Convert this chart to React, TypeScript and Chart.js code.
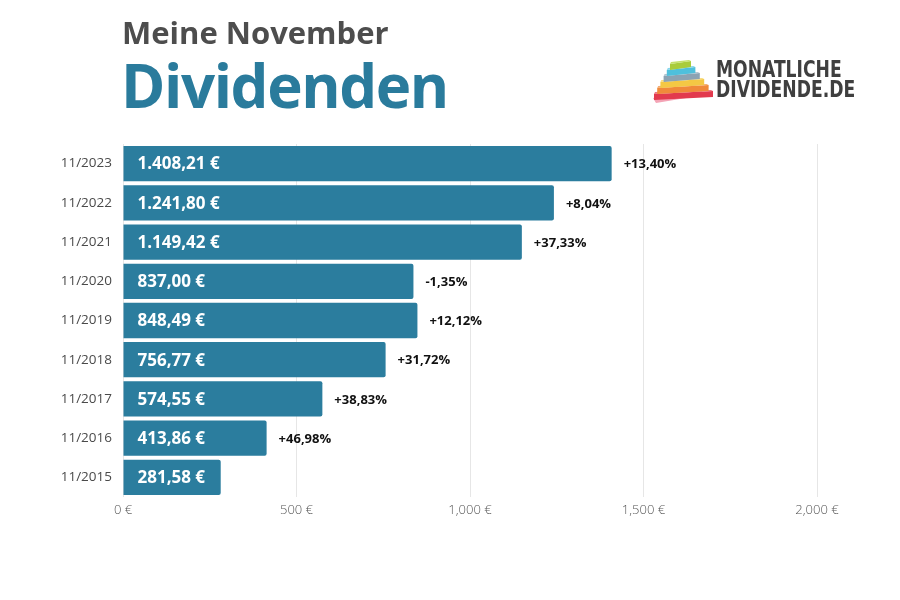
import React, { useEffect, useRef } from "react";
import { Chart, registerables } from "chart.js";

Chart.register(...registerables);

const categories = ["11/2023", "11/2022", "11/2021", "11/2020", "11/2019", "11/2018", "11/2017", "11/2016", "11/2015"];
const values = [1408.21, 1241.8, 1149.42, 837.0, 848.49, 756.77, 574.55, 413.86, 281.58];
const valueLabels = ["1.408,21 €", "1.241,80 €", "1.149,42 €", "837,00 €", "848,49 €", "756,77 €", "574,55 €", "413,86 €", "281,58 €"];
const changeLabels = ["+13,40%", "+8,04%", "+37,33%", "-1,35%", "+12,12%", "+31,72%", "+38,83%", "+46,98%", ""];
const xTicks = ["0 €", "500 €", "1,000 €", "1,500 €", "2,000 €"];

const BAR = "#2b7d9e";

const labelPlugin = {
  id: "barLabels",
  afterDatasetsDraw(chart: any) {
    const ctx = chart.ctx;
    const meta = chart.getDatasetMeta(0);
    ctx.save();
    meta.data.forEach((bar: any, i: number) => {
      ctx.textBaseline = "middle";
      ctx.textAlign = "left";
      ctx.fillStyle = "#ffffff";
      ctx.font = "bold 17px 'Open Sans'";
      ctx.fillText(valueLabels[i], bar.base + 14, bar.y + 1);
      if (changeLabels[i]) {
        ctx.fillStyle = "#111111";
        ctx.font = "bold 13px 'Open Sans'";
        ctx.fillText(changeLabels[i], bar.x + 12, bar.y + 1);
      }
    });
    ctx.restore();
  },
};

// top -> bottom
const logoLayers = ["#a9cc3c", "#4fc0dc", "#8ca3b3", "#f4c844", "#f08a3a", "#e23a4e"];
const logoTops = ["#c4e06a", "#86d6ec", "#b3c4d0", "#f8dc7e", "#f5ad72", "#ee7585"];

function Logo() {
  const order = [5, 4, 3, 2, 1, 0];
  return (
    <div style={{ position: "absolute", left: 650, top: 56, width: 220, height: 50 }}>
      <svg width="66" height="50" style={{ position: "absolute", left: 0, top: 0 }}>
        <polygon points="3,42 52,35 54,39 6,47" fill="#f4a3b5" />
        {order.map((i) => {
          const xl = 20 - 3.2 * i;
          const xr = 41 + 4.4 * i;
          const yt = 5 + 6 * i;
          return (
            <g key={i}>
              <polygon
                points={`${xl},${yt + 3} ${xr},${yt} ${xr},${yt + 6} ${xl},${yt + 9}`}
                fill={logoLayers[i]}
              />
              <polygon
                points={`${xl},${yt + 3} ${xr},${yt} ${xr - 2},${yt - 1} ${xl + 1},${yt + 1}`}
                fill={logoTops[i]}
              />
            </g>
          );
        })}
      </svg>
      <div
        style={{
          position: "absolute",
          left: 66,
          top: 3,
          fontFamily: "'Liberation Sans Narrow', 'DejaVu Sans Condensed', 'Open Sans', sans-serif",
          fontWeight: 700,
          fontSize: 23,
          lineHeight: "20px",
          color: "#3f3f3f",
          whiteSpace: "nowrap",
          transform: "scaleX(0.83)",
          transformOrigin: "left top",
        }}
      >
        <div>MONATLICHE</div>
        <div>DIVIDENDE.DE</div>
      </div>
    </div>
  );
}

export default function App() {
  const ref = useRef<HTMLCanvasElement | null>(null);

  useEffect(() => {
    if (!ref.current) return;
    const chart = new Chart(ref.current, {
      type: "bar",
      data: {
        labels: categories,
        datasets: [
          {
            data: values,
            backgroundColor: BAR,
            borderRadius: { topLeft: 0, bottomLeft: 0, topRight: 2, bottomRight: 2 },
            borderSkipped: false,
            barPercentage: 0.9,
            categoryPercentage: 1,
          },
        ],
      },
      options: {
        indexAxis: "y",
        animation: false,
        responsive: false,
        maintainAspectRatio: false,
        layout: { padding: { top: 144, right: 83, left: 0, bottom: 0 } },
        plugins: { legend: { display: false }, tooltip: { enabled: false } },
        scales: {
          x: {
            min: 0,
            max: 2000,
            afterFit: (s: any) => {
              s.height = 103;
            },
            ticks: {
              stepSize: 500,
              padding: 5,
              color: "#555555",
              font: { family: "'Open Sans'", size: 13, weight: 300 as any },
              callback: (_v: any, i: number) => xTicks[i],
            },
            grid: { color: "#e6e6e6", drawTicks: false },
            border: { display: false },
          },
          y: {
            afterFit: (s: any) => {
              s.width = 123;
            },
            ticks: {
              padding: 11,
              color: "#4a4a4a",
              font: { family: "'Open Sans'", size: 13.5 },
            },
            grid: { display: false, drawTicks: false },
            border: { display: false },
          },
        },
      },
      plugins: [labelPlugin],
    });
    return () => chart.destroy();
  }, []);

  return (
    <div style={{ position: "fixed", left: 0, top: 0, width: 900, height: 600, background: "#ffffff", overflow: "hidden" }}>
      <canvas ref={ref} width={900} height={600} style={{ position: "absolute", left: 0, top: 0 }} />
      <div
        style={{
          position: "absolute",
          left: 122,
          top: 12,
          fontFamily: "'Open Sans', sans-serif",
          fontWeight: 700,
          fontSize: 31,
          color: "#4d4d4d",
          lineHeight: "40px",
          whiteSpace: "nowrap",
        }}
      >
        Meine November
      </div>
      <div
        style={{
          position: "absolute",
          left: 121,
          top: 46,
          fontFamily: "'Open Sans', sans-serif",
          fontWeight: 700,
          fontSize: 60,
          letterSpacing: "-1.4px",
          color: "#2a7b9c",
          lineHeight: "78px",
          whiteSpace: "nowrap",
        }}
      >
        Dividenden
      </div>
      <Logo />
    </div>
  );
}
